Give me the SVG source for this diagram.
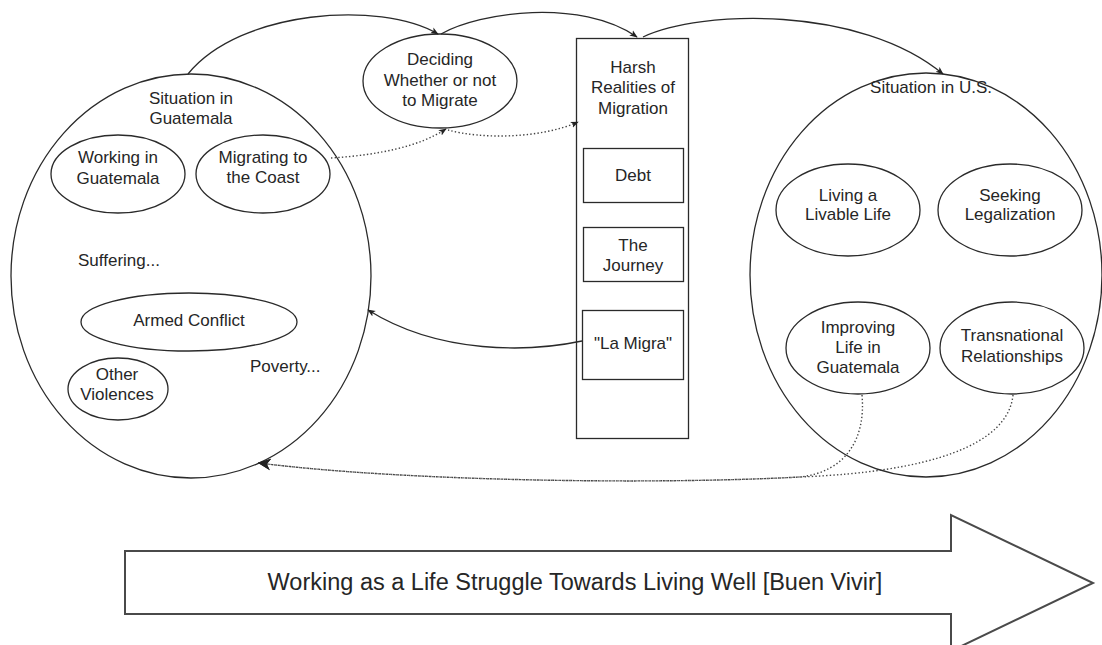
<svg xmlns="http://www.w3.org/2000/svg" width="1102" height="645" viewBox="0 0 1102 645">
<defs>
<style>
.n{fill:none;stroke:#2a2a2a;stroke-width:1.3}
.t{font-family:"Liberation Sans",Arial,sans-serif;font-size:17px;fill:#262626;text-anchor:middle}
.tl{text-anchor:start}
.c{fill:none;stroke:#2a2a2a;stroke-width:1.3}
.d{fill:none;stroke:#444;stroke-width:1.4;stroke-dasharray:1.4 2.2}
</style>
<marker id="ah" viewBox="0 0 10 10" refX="9" refY="5" markerWidth="8" markerHeight="8" markerUnits="userSpaceOnUse" orient="auto">
<path d="M0,1 L10,5 L0,9 L2.5,5 Z" fill="#222" stroke="none"/>
</marker>
<marker id="ahb" viewBox="0 0 10 10" refX="9" refY="5" markerWidth="13" markerHeight="13" markerUnits="userSpaceOnUse" orient="auto">
<path d="M0,0.5 L10,5 L0,9.5 L3,5 Z" fill="#222" stroke="none"/>
</marker>
</defs>
<rect width="1102" height="645" fill="#fff"/>

<g id="guatemala">
<ellipse class="n" cx="191" cy="276" rx="180" ry="202"/>
<text class="t" x="191" y="104">Situation in</text>
<text class="t" x="191" y="124">Guatemala</text>
<text class="t tl" x="78" y="266">Suffering...</text>
<text class="t tl" x="250" y="372">Poverty...</text>
</g>
<g id="working">
<ellipse class="n" cx="118" cy="174" rx="67" ry="39"/>
<text class="t" x="118" y="163">Working in</text>
<text class="t" x="118" y="184">Guatemala</text>
</g>
<g id="coast">
<ellipse class="n" cx="263" cy="174" rx="67" ry="39"/>
<text class="t" x="263" y="163">Migrating to</text>
<text class="t" x="263" y="183">the Coast</text>
</g>
<g id="armed">
<ellipse class="n" cx="189" cy="322" rx="108" ry="29"/>
<text class="t" x="189" y="326">Armed Conflict</text>
</g>
<g id="violences">
<ellipse class="n" cx="118" cy="389" rx="50" ry="31"/>
<text class="t" x="117" y="380">Other</text>
<text class="t" x="117" y="400">Violences</text>
</g>
<g id="deciding">
<ellipse class="n" cx="440" cy="81" rx="77" ry="47"/>
<text class="t" x="440" y="65">Deciding</text>
<text class="t" x="440" y="86">Whether or not</text>
<text class="t" x="440" y="106">to Migrate</text>
</g>
<g id="harsh">
<rect class="n" x="576.5" y="38.5" width="112" height="400"/>
<text class="t" x="633" y="73">Harsh</text>
<text class="t" x="633" y="93">Realities of</text>
<text class="t" x="633" y="114">Migration</text>
</g>
<g id="debt">
<rect class="n" x="583.5" y="148.5" width="100" height="54"/>
<text class="t" x="633" y="181">Debt</text>
</g>
<g id="journey">
<rect class="n" x="583.5" y="227.5" width="100" height="54"/>
<text class="t" x="633" y="251">The</text>
<text class="t" x="633" y="271">Journey</text>
</g>
<g id="lamigra">
<rect class="n" x="582.5" y="310.5" width="101" height="69"/>
<text class="t" x="633" y="349">"La Migra"</text>
</g>
<g id="us">
<ellipse class="n" cx="926" cy="275" rx="176" ry="202"/>
<text class="t" x="931" y="93">Situation in U.S.</text>
</g>
<g id="livable">
<ellipse class="n" cx="848" cy="210" rx="72" ry="46"/>
<text class="t" x="848" y="201">Living a</text>
<text class="t" x="848" y="220">Livable Life</text>
</g>
<g id="legalization">
<ellipse class="n" cx="1010" cy="210" rx="72" ry="46"/>
<text class="t" x="1010" y="201">Seeking</text>
<text class="t" x="1010" y="220">Legalization</text>
</g>
<g id="improving">
<ellipse class="n" cx="858" cy="348" rx="72" ry="46"/>
<text class="t" x="858" y="333">Improving</text>
<text class="t" x="858" y="353">Life in</text>
<text class="t" x="858" y="373">Guatemala</text>
</g>
<g id="transnational">
<ellipse class="n" cx="1012" cy="348" rx="72" ry="46"/>
<text class="t" x="1012" y="341">Transnational</text>
<text class="t" x="1012" y="362">Relationships</text>
</g>
<g id="buenvivir">
<polygon points="125,551 951,551 951,515 1093,583 951,651 951,614 125,614" fill="#fff" stroke="#4a4a4a" stroke-width="2"/>
<text class="t" x="575" y="590" style="font-size:23.5px">Working as a Life Struggle Towards Living Well [Buen Vivir]</text>
</g>

<g id="connectors">
<path class="c" d="M188,74 C240,10 380,0 438,34" marker-end="url(#ah)"/>
<path class="c" d="M441,34 C480,12 580,-2 637,37" marker-end="url(#ah)"/>
<path class="c" d="M643,37 C700,10 860,5 943,74" marker-end="url(#ah)"/>
<path class="c" d="M582,341 C530,352 440,355 368,310" marker-end="url(#ah)"/>
<path class="d" d="M331,158 C380,155 420,146 446,129" marker-end="url(#ah)"/>
<path class="d" d="M448,130 C480,139 540,139 578,122" marker-end="url(#ah)"/>
<path class="d" d="M862,395 C866,440 845,472 800,477 C650,485 400,481 259,463" marker-end="url(#ahb)"/>
<path class="d" d="M1013,395 C1008,445 930,472 800,477 C650,485 400,481 259,463" marker-end="url(#ahb)"/>
</g>
</svg>
